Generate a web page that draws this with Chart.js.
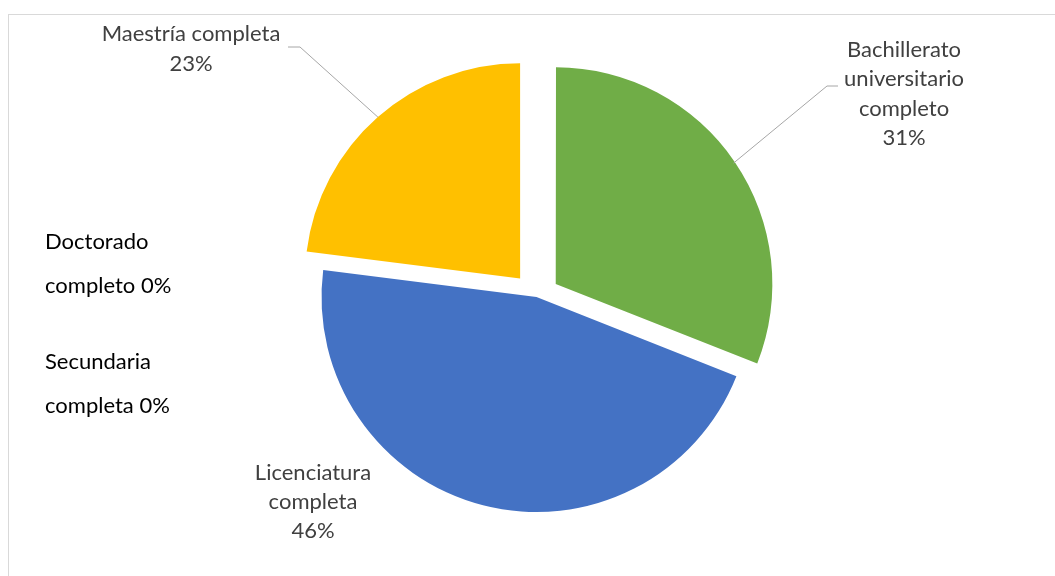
<!DOCTYPE html>
<html>
<head>
<meta charset="utf-8">
<script src="https://cdn.jsdelivr.net/npm/chart.js@4/dist/chart.umd.min.js"></script>
<style>
  html, body { margin: 0; padding: 0; background: #fff; }
  #wrap { width: 1055px; height: 576px; }
</style>
</head>
<body>
<div id="wrap"><canvas id="nivel-chart" width="1055" height="576"></canvas></div>
<script>
// Nivel educativo (porcentajes)
const categorias = ['Bachillerato universitario completo', 'Licenciatura completa', 'Secundaria completa', 'Doctorado completo', 'Maestría completa'];
const porcentajes = [31, 46, 0, 0, 23];
const colores = ['#70AD47', '#4472C4', '#A5A5A5', '#5B9BD5', '#FFC000'];
const separacion = [93, 0, 0, 0, 99];

const FONT = '22px Lato, "Liberation Sans", sans-serif';

// label layout: text lines (without the %), anchor, line step and optional leader elbow
const etiquetas = [
    { lines: ['Bachillerato', 'universitario', 'completo'], x: 904, y: 57, step: 29.3, align: 'center', color: '#404040', elbow: [[827, 86], [838, 86]] },
    { lines: ['Licenciatura', 'completa'], x: 313, y: 480, step: 29, align: 'center', color: '#404040' },
    { lines: ['Secundaria', 'completa'], x: 45, y: 369, step: 43.5, align: 'left', color: '#000000', inline: true },
    { lines: ['Doctorado', 'completo'], x: 45, y: 249, step: 44, align: 'left', color: '#000000', inline: true },
    { lines: ['Maestría completa'], x: 191, y: 41, step: 29.5, align: 'center', color: '#404040', elbow: [[300, 47], [288, 47]] }
];

const marco = {
    id: 'marco',
    beforeDraw(chart) {
        const ctx = chart.ctx;
        ctx.save();
        ctx.strokeStyle = '#d9d9d9';
        ctx.lineWidth = 1;
        ctx.strokeRect(8.5, 14.5, 1200, 700);
        ctx.restore();
    }
};

const rotulos = {
    id: 'rotulos',
    afterDatasetsDraw(chart) {
        const ctx = chart.ctx;
        const meta = chart.getDatasetMeta(0);
        const total = porcentajes.reduce((a, b) => a + b, 0);
        ctx.save();
        ctx.font = FONT;
        meta.data.forEach((arc, i) => {
            const et = etiquetas[i];
            const pct = Math.round(porcentajes[i] / total * 100) + '%';
            const lines = et.lines.slice();
            if (et.inline) lines[lines.length - 1] += ' ' + pct;
            else lines.push(pct);

            // leader line from the slice edge to the label
            if (et.elbow) {
                const mid = (arc.startAngle + arc.endAngle) / 2;
                const shift = (arc.options.offset || 0) / 4;
                const r = arc.outerRadius + shift;
                ctx.strokeStyle = '#a6a6a6';
                ctx.lineWidth = 1;
                ctx.beginPath();
                ctx.moveTo(arc.x + Math.cos(mid) * r, arc.y + Math.sin(mid) * r);
                et.elbow.forEach(p => ctx.lineTo(p[0], p[1]));
                ctx.stroke();
            }

            ctx.fillStyle = et.color;
            ctx.textAlign = et.align;
            ctx.textBaseline = 'alphabetic';
            lines.forEach((t, k) => ctx.fillText(t, et.x, et.y + k * et.step));
        });
        ctx.restore();
    }
};

new Chart(document.getElementById('nivel-chart').getContext('2d'), {
    type: 'pie',
    data: {
        labels: categorias,
        datasets: [{
            data: porcentajes,
            backgroundColor: colores,
            borderWidth: 0,
            offset: separacion
        }]
    },
    options: {
        responsive: false,
        animation: false,
        events: [],
        radius: 215,
        layout: { padding: { left: 18, top: 18, right: 0, bottom: 0 } },
        plugins: {
            legend: { display: false },
            tooltip: { enabled: false }
        }
    },
    plugins: [marco, rotulos]
});
</script>
</body>
</html>
